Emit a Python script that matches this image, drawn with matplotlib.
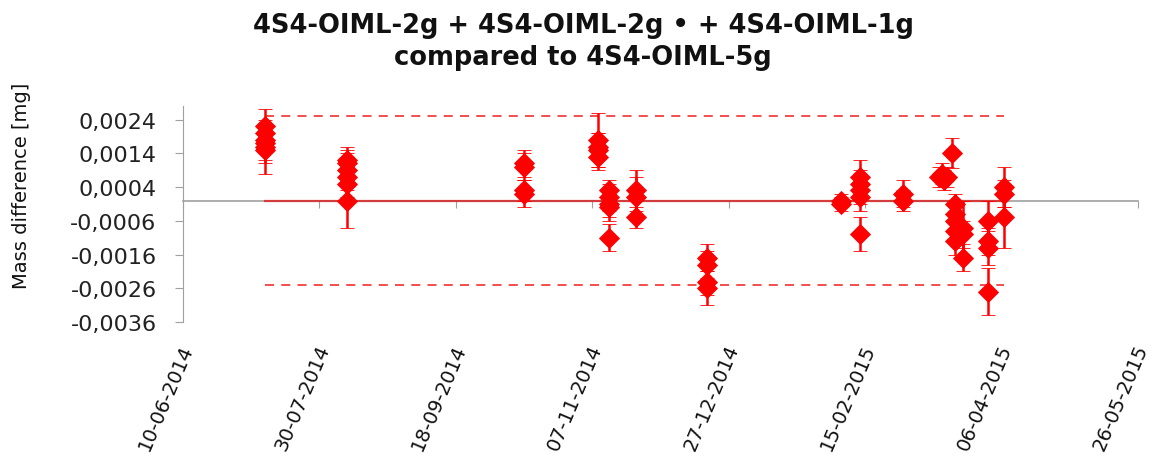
import matplotlib
matplotlib.use("Agg")
import matplotlib.pyplot as plt
from matplotlib.transforms import blended_transform_factory, ScaledTranslation
from datetime import datetime, timedelta

# ---------------- data ----------------
title_line1 = "4S4-OIML-2g + 4S4-OIML-2g \u2022 + 4S4-OIML-1g"
title_line2 = "compared to 4S4-OIML-5g"
y_label = "Mass difference [mg]"

meas_dates = (
    ["2014-07-10"] * 6 +
    ["2014-08-09"] * 6 +
    ["2014-10-13"] * 4 +
    ["2014-11-09"] * 4 +
    ["2014-11-13"] * 5 +
    ["2014-11-23"] * 3 +
    ["2014-12-19"] * 4 +
    ["2015-02-06"] * 2 +
    ["2015-02-13"] * 5 +
    ["2015-03-01"] * 2 +
    ["2015-03-14", "2015-03-15", "2015-03-16", "2015-03-17", "2015-03-19"] +
    ["2015-03-20"] * 5 +
    ["2015-03-23"] * 3 +
    ["2015-04-01"] * 4 +
    ["2015-04-07"] * 3
)
mass_diff = [
    0.0022, 0.0020, 0.0018, 0.0017, 0.0016, 0.0015,
    0.0012, 0.0011, 0.0009, 0.0007, 0.0005, 0.0000,
    0.0011, 0.0010, 0.0003, 0.0002,
    0.0018, 0.0016, 0.0015, 0.0013,
    0.0003, 0.0001, -0.0001, -0.0002, -0.0011,
    0.0003, 0.0001, -0.0005,
    -0.0017, -0.0019, -0.0024, -0.0026,
    0.0000, -0.0001,
    0.0007, 0.0005, 0.0003, 0.0001, -0.0010,
    0.0002, 0.0000,
    0.0007, 0.0008, 0.0006, 0.0007, 0.0014,
    -0.0001, -0.0004, -0.0006, -0.0009, -0.0012,
    -0.0008, -0.0010, -0.0017,
    -0.0006, -0.0012, -0.0014, -0.0027,
    0.0004, 0.0002, -0.0005,
]
uncertainty = [
    0.0005, 0.0004, 0.0004, 0.0005, 0.0005, 0.0007,
    0.0004, 0.0004, 0.0005, 0.0004, 0.0004, 0.0008,
    0.0004, 0.0004, 0.0003, 0.0004,
    0.0008, 0.0004, 0.0005, 0.0004,
    0.0003, 0.0004, 0.0004, 0.0004, 0.0004,
    0.0006, 0.0006, 0.0003,
    0.0004, 0.0004, 0.0004, 0.0005,
    0.0002, 0.0002,
    0.0005, 0.0004, 0.0004, 0.0004, 0.0005,
    0.0004, 0.0003,
    0.0003, 0.0003, 0.0003, 0.0003, 0.00045,
    0.0003, 0.0004, 0.0004, 0.0004, 0.0004,
    0.0008, 0.0004, 0.0004,
    0.0006, 0.0004, 0.0005, 0.0007,
    0.0006, 0.0004, 0.0009,
]

reference_value = 0.0
limit_value = 0.0025

x_start = "2014-06-10"
x_tick_step_days = 50
x_tick_count = 8
y_ticks = [0.0024, 0.0014, 0.0004, -0.0006, -0.0016, -0.0026, -0.0036]
y_min, y_max = -0.0036, 0.0028

# ---------------- figure ----------------
DPI = 100
fig = plt.figure(figsize=(11.52, 4.56), dpi=DPI)
fig.patch.set_facecolor("white")
ax = fig.add_axes([183 / 1152, 1 - 323 / 456, (1138 - 183) / 1152, (323 - 107) / 456])

dates = [datetime.strptime(d, "%Y-%m-%d") for d in meas_dates]
t0 = datetime.strptime(x_start, "%Y-%m-%d")
tick_dates = [t0 + timedelta(days=x_tick_step_days * i) for i in range(x_tick_count)]

# reference & limit lines
d_first, d_last = min(dates), max(dates)
ax.plot([d_first, d_last], [reference_value] * 2, color="#d23c3c", lw=1.6, zorder=2)
ax.plot([d_first, d_last], [limit_value] * 2, color="#f24040", lw=1.3,
        linestyle=(0, (5, 4)), zorder=2)
ax.plot([d_first, d_last], [-limit_value] * 2, color="#f24040", lw=1.3,
        linestyle=(0, (5, 4)), zorder=2)

ax.errorbar(dates, mass_diff, yerr=uncertainty, fmt="D", color="#ff0000",
            ms=10, mec="#ff0000", mew=0.6, elinewidth=1.8, ecolor="#ff0000",
            capsize=5, capthick=1.8, zorder=3)

ax.set_xlim(tick_dates[0], tick_dates[-1])
ax.set_ylim(y_min, y_max)

for s in ["top", "right"]:
    ax.spines[s].set_visible(False)
ax.spines["bottom"].set_position(("data", 0))
ax.spines["bottom"].set_color("#a0a0a0")
ax.spines["left"].set_color("#a0a0a0")
ax.spines["bottom"].set_linewidth(1.2)
ax.spines["bottom"].set_zorder(1)

ax.set_yticks(y_ticks)
ax.set_yticklabels([f"{v:.4f}".replace(".", ",") for v in y_ticks])
ax.tick_params(axis="y", direction="out", length=6, color="#a0a0a0",
               labelsize=16, labelcolor="#222222", pad=13)

ax.set_xticks(tick_dates)
ax.set_xticklabels([])
ax.tick_params(axis="x", direction="out", length=5, color="#a0a0a0")

trans = blended_transform_factory(ax.transData, ax.transAxes) + \
    ScaledTranslation(5 / DPI, -23 / DPI, fig.dpi_scale_trans)
for d in tick_dates:
    ax.text(d, 0, d.strftime("%d-%m-%Y"), transform=trans, rotation=67,
            rotation_mode="anchor", ha="right", va="center", fontsize=14,
            color="#111111", clip_on=False)

fig.text(583 / 1152, 1 - 26 / 456, title_line1, ha="center", va="center",
         fontsize=18.5, fontweight="bold", color="#111111")
fig.text(583 / 1152, 1 - 58 / 456, title_line2, ha="center", va="center",
         fontsize=18.5, fontweight="bold", color="#111111")
fig.text(22 / 1152, 1 - 186 / 456, y_label, rotation=90, ha="center",
         va="center", fontsize=14, color="#111111")

fig.savefig("out.png", dpi=DPI, facecolor="white")
